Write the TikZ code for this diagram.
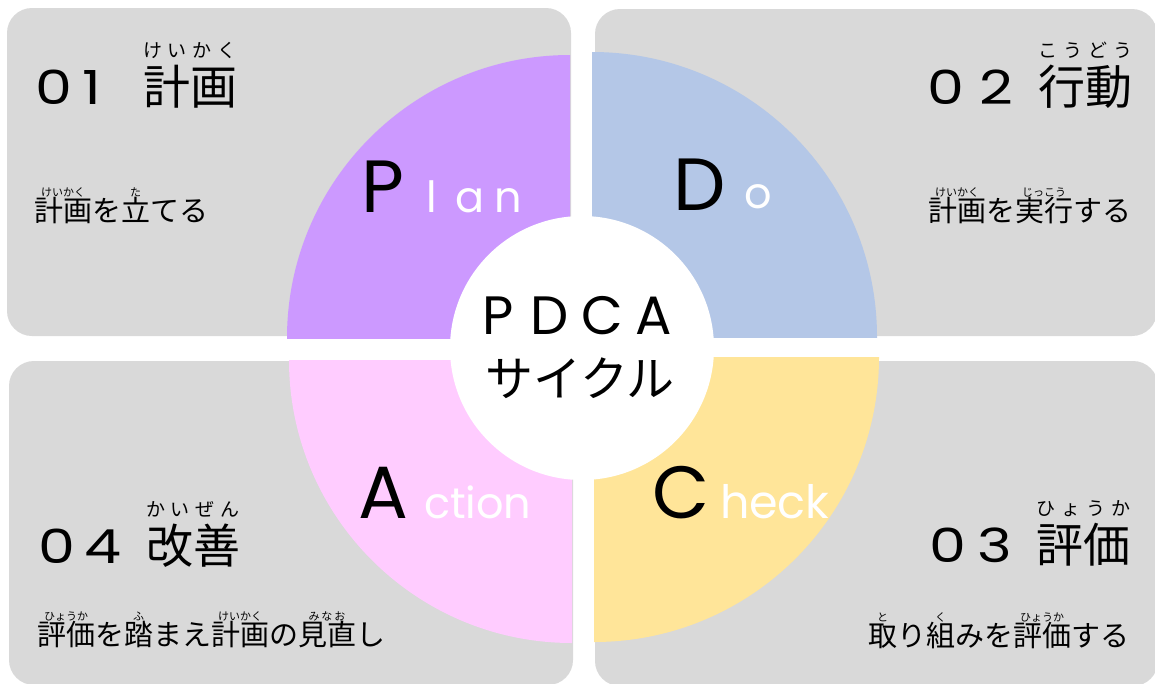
\documentclass[tikz,border=0pt]{standalone}
\usepackage{fontspec}
\usepackage{graphicx}
\setmainfont{Noto Sans CJK JP}
\newfontfamily\pop{Poppins}
\newcommand\fs[1]{\fontsize{#1pt}{#1pt}\selectfont}
\newcommand\rubyset[4]{\begingroup\setbox0\hbox{#3}\rlap{\raisebox{#2}[0pt][0pt]{\hbox to\wd0{\fs{#1}\hss#4\hss}}}\box0\endgroup}
\newcommand\rb[2]{\rubyset{11}{25pt}{#1}{#2}}
\newcommand\hrb[2]{\rubyset{19}{47pt}{#1}{#2}}
\newcommand\spc[2]{\makebox[#1]{#2}}
\newcommand\dg[2]{\makebox[#1]{\scalebox{1.25}[1]{#2}}}
\definecolor{boxgray}{HTML}{D9D9D9}
\definecolor{planc}{HTML}{CC99FF}
\definecolor{doc}{HTML}{B4C7E7}
\definecolor{actc}{HTML}{FFCCFF}
\definecolor{chkc}{HTML}{FFE599}
\tikzset{
  every node/.style={inner sep=0pt, outer sep=0pt},
  box/.style={fill=boxgray, rounded corners=25pt},
  head/.style={font=\fs{47}},
  num/.style={font=\pop\fs{47}},
  sub/.style={font=\fs{29}},
  big/.style={font=\pop\fs{74}},
  small/.style={font=\pop\fs{43}, text=white},
}
\begin{document}
\begin{tikzpicture}[x=1pt,y=-1pt]
\useasboundingbox (0,0) rectangle (1155,683);
\fill[white] (0,0) rectangle (1155,683);
% background boxes
\fill[box] (7,8) rectangle (571,336);
\fill[box] (595,9) rectangle (1157,336);
\fill[box] (9,361) rectangle (573,685);
\fill[box] (595,361) rectangle (1158,686);
% quadrants
\begin{scope}\clip (280,40) rectangle (570,338);
  \fill[planc] (570,338) circle[radius=283];\end{scope}
\begin{scope}\clip (592,40) rectangle (890,337);
  \fill[doc] (592,337) circle[radius=285];\end{scope}
\begin{scope}\clip (280,360) rectangle (572,660);
  \fill[actc] (572,360) circle[radius=283];\end{scope}
\begin{scope}\clip (594,357) rectangle (890,660);
  \fill[chkc] (594,357) circle[radius=285];\end{scope}
\node[circle, fill=white, minimum size=264pt] (hub) at (582,348) {};
% centre text
\node[font=\pop\fs{54}, anchor=base west] (pdca) at (472,334)
  {\spc{52pt}{P}\spc{52pt}{D}\spc{52pt}{C}\spc{52pt}{A}};
\node[font=\fs{48}, anchor=base] (cycle) at (580,396) {サイクル};
% quadrant letters
\node[big, anchor=base west] (P) at (361,212) {P};
\node[small, anchor=base west] (lan) at (413,212) {\spc{38pt}{l}\spc{38pt}{a}\spc{38pt}{n}};
\node[big, anchor=base west] (D) at (673,210) {D};
\node[small, anchor=base west] (o) at (744,208) {o};
\node[big, anchor=base west] (A) at (358,518) {A};
\node[small, anchor=base west] (ction) at (424,518) {ction};
\node[big, anchor=base west] (C) at (652,518) {C};
\node[small, font=\pop\fs{46}, anchor=base west] (heck) at (720,518) {heck};
% headings
\node[num, anchor=base west] (n1) at (35,104) {\dg{38pt}{0}\dg{38pt}{1}};
\node[head, anchor=base west] (h1) at (143,104) {\hrb{計画}{け\hfill い\hfill か\hfill く}};
\node[num, anchor=base west] (n2) at (921,104) {\dg{50pt}{0}\dg{50pt}{2}};
\node[head, anchor=base east] (h2) at (1132,104) {\hrb{行動}{こ\hfill う\hfill ど\hfill う}};
\node[num, anchor=base west] (n3) at (924,562) {\dg{47pt}{0}\dg{47pt}{3}};
\node[head, anchor=base east] (h3) at (1130,562) {\hrb{評価}{ひ\hfill ょ\hfill う\hfill か}};
\node[num, anchor=base west] (n4) at (34,563) {\dg{46pt}{0}\dg{46pt}{4}};
\node[head, anchor=base west] (h4) at (146,563) {\hrb{改善}{か\hfill い\hfill ぜ\hfill ん}};
% sub texts
\node[sub, anchor=base west] (s1) at (34,221) {\rb{計画}{けいかく}を\rb{立}{た}てる};
\node[sub, anchor=base east] (s2) at (1131,221) {\rb{計画}{けいかく}を\rb{実行}{じっこう}する};
\node[sub, anchor=base east] (s3) at (1129,646) {\rb{取}{と}り\rb{組}{く}みを\rb{評価}{ひょうか}する};
\node[sub, anchor=base west] (s4) at (37,645) {\rb{評価}{ひょうか}を\rb{踏}{ふ}まえ\rb{計画}{けいかく}の\rb{見直}{み\,な\,お}し};
\end{tikzpicture}
\end{document}
